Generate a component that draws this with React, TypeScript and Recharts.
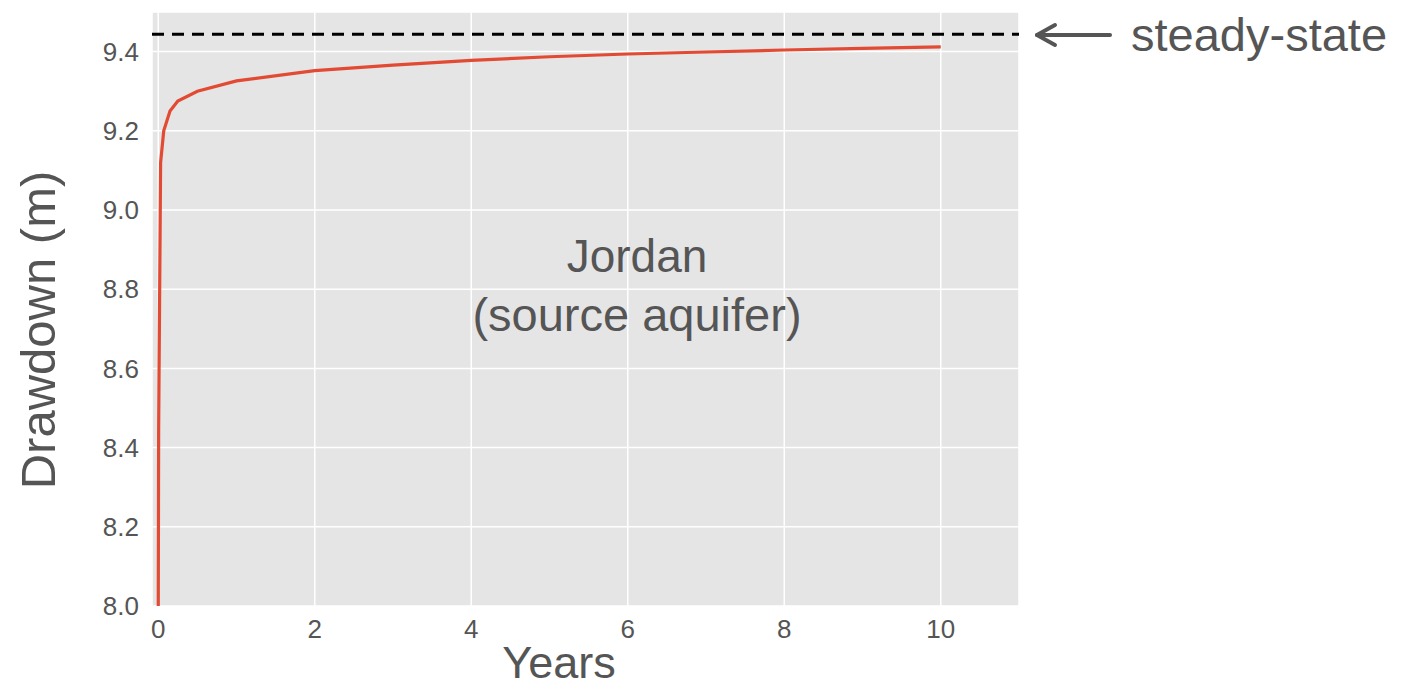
import { LineChart, Line, XAxis, YAxis, CartesianGrid, ReferenceLine, Customized } from 'recharts';

// drawdown vs time
const years = [0, 0.005, 0.03, 0.07, 0.15, 0.25, 0.5, 1, 2, 3, 4, 5, 6, 7, 8, 9, 10];
const drawdown = [8.0, 8.45, 9.12, 9.2, 9.25, 9.275, 9.3, 9.326, 9.352, 9.366, 9.378, 9.387, 9.394, 9.399, 9.404, 9.408, 9.412];
const steadyState = 9.444;
const xTicks = [0, 2, 4, 6, 8, 10];
const yTicks = [8.0, 8.2, 8.4, 8.6, 8.8, 9.0, 9.2, 9.4];

const data = years.map((t, i) => ({ t, s: drawdown[i] }));

const FONT = '"Liberation Sans", Arial, Helvetica, sans-serif';
const TEXT = '#555555';

const Annotations = () => (
  <g fontFamily={FONT} fill={TEXT}>
    <text x={637} y={272} fontSize={46} textAnchor="middle">Jordan</text>
    <text x={637} y={331} fontSize={47} textAnchor="middle">(source aquifer)</text>
    <text x={1131} y={51} fontSize={47}>steady-state</text>
    <g stroke={TEXT} strokeWidth={4} fill="none" strokeLinecap="round" strokeLinejoin="round">
      <line x1={1037} y1={35} x2={1110} y2={35} />
      <polyline points="1055,25 1037,35 1055,45" />
    </g>
    <text x={559} y={678} fontSize={45} textAnchor="middle">Years</text>
    <text x={0} y={0} fontSize={49} textAnchor="middle" transform="translate(55 330) rotate(-90)">Drawdown (m)</text>
  </g>
);

export default function App() {
  return (
    <div style={{ position: 'absolute', left: 0, top: 0, width: 1405, height: 691, background: '#fff' }}>
      <LineChart width={1405} height={691} data={data} margin={{ top: 12, right: 386, bottom: 45, left: 92 }}>
        <CartesianGrid fill="#E5E5E5" stroke="#ffffff" strokeWidth={1.5} />
        <XAxis
          dataKey="t"
          type="number"
          domain={[-0.08, 11]}
          ticks={xTicks}
          allowDataOverflow
          height={40}
          axisLine={false}
          tickLine={false}
          tickSize={0}
          tickMargin={14}
          tick={{ fill: TEXT, fontSize: 26, fontFamily: FONT }}
        />
        <YAxis
          type="number"
          domain={[8.0, 9.5]}
          ticks={yTicks}
          allowDataOverflow
          width={60}
          axisLine={false}
          tickLine={false}
          tickSize={0}
          tickMargin={13}
          tickFormatter={(v: number) => v.toFixed(1)}
          tick={{ fill: TEXT, fontSize: 26, fontFamily: FONT }}
        />
        <ReferenceLine y={steadyState} stroke="#000" strokeWidth={3} strokeDasharray="12 8" />
        <Line
          dataKey="s"
          type="linear"
          stroke="#E24A33"
          strokeWidth={3.2}
          dot={false}
          isAnimationActive={false}
        />
        <Customized component={Annotations} />
      </LineChart>
    </div>
  );
}
